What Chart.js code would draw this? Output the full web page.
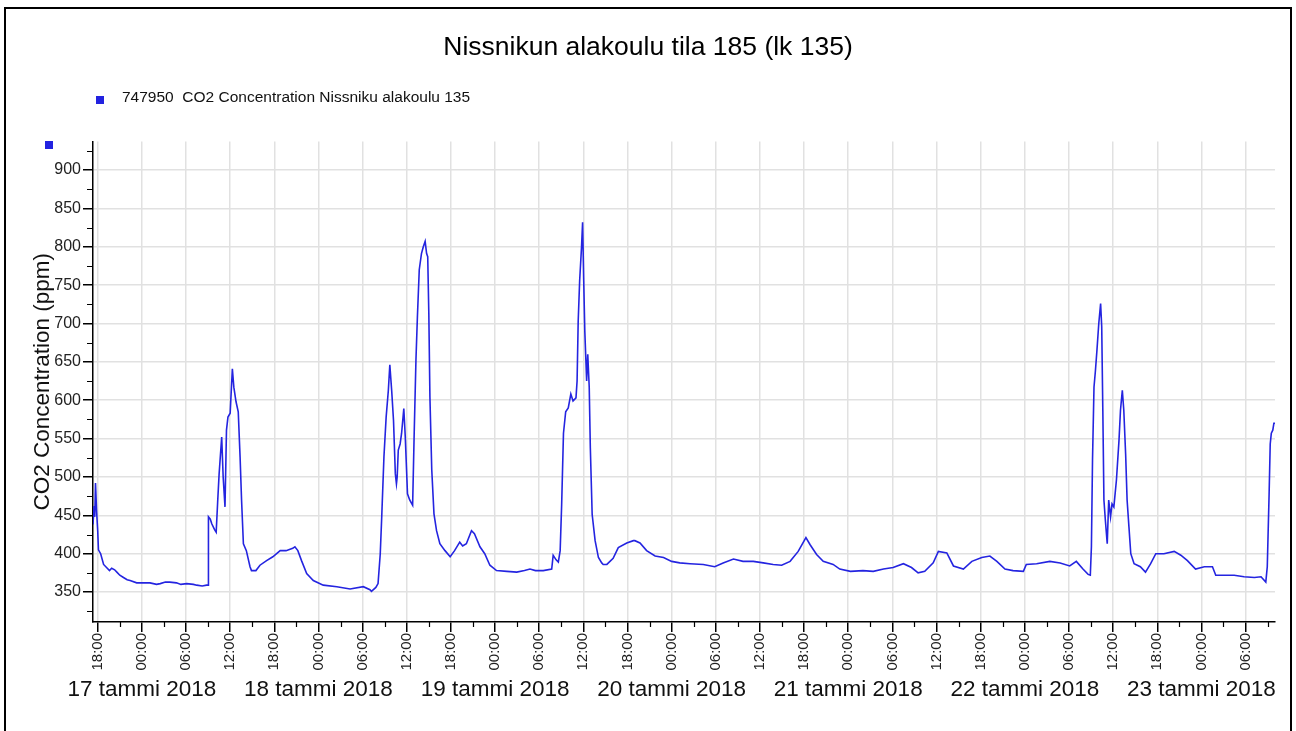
<!DOCTYPE html>
<html>
<head>
<meta charset="utf-8">
<script src="https://cdn.jsdelivr.net/npm/chart.js@4.4.1/dist/chart.umd.min.js"></script>
<style>
html,body{margin:0;padding:0;background:#fff;}
#wrap{position:relative;width:1296px;height:731px;overflow:hidden;background:#fff;}
#frame{position:absolute;left:4px;top:7px;width:1288px;height:740px;border:2px solid #000;box-sizing:border-box;}
#chartBox{position:absolute;left:0;top:0;width:1296px;height:731px;}
.sq{position:absolute;width:8px;height:8px;background:#2222e0;}
#legendText{position:absolute;left:122px;top:88px;font-family:"Liberation Sans",Arial,sans-serif;font-size:15.5px;line-height:18px;color:#111;white-space:pre;}
</style>
</head>
<body>
<div id="wrap">
  <div id="frame"></div>
  <div id="chartBox"><canvas id="c"></canvas></div>
  <div class="sq" style="left:96px;top:96px;"></div>
  <div id="legendText">747950  CO2 Concentration Nissniku alakoulu 135</div>
  <div class="sq" style="left:45px;top:141px;"></div>
</div>
<script>
// time in hours since 16 Jan 2018 00:00
const hoursSince16Jan = [
 17.36,17.5,17.6,17.7,17.85,18.0,18.1,18.4,18.8,19.2,19.6,19.9,20.3,20.6,21.0,21.5,22.0,22.4,23.3,24.0,
 25.1,26.0,26.5,27.2,27.8,28.7,29.3,30.1,31.0,31.45,32.2,32.8,33.0,33.05,33.3,33.5,33.9,34.1,34.3,34.5,
 34.85,35.05,35.3,35.5,35.7,36.0,36.3,36.5,36.8,37.1,37.35,37.55,37.8,38.2,38.7,38.9,39.5,40.05,40.95,41.8,
 42.8,43.6,44.5,44.8,45.2,45.7,46.4,47.3,48.65,50.5,52.3,54.1,55.0,55.2,55.8,56.1,56.4,56.6,56.9,57.2,
 57.5,57.7,57.95,58.2,58.45,58.6,58.7,58.85,59.1,59.3,59.6,59.8,60.1,60.4,60.8,61.0,61.25,61.45,61.7,62.0,
 62.25,62.5,62.7,62.85,63.0,63.15,63.4,63.7,64.05,64.5,65.2,65.9,66.5,67.2,67.6,68.1,68.8,69.2,69.95,70.6,
 71.3,72.2,73.6,74.95,76.0,76.75,77.5,78.55,79.7,79.9,80.3,80.6,80.85,81.05,81.3,81.6,81.95,82.3,82.6,83.0,
 83.15,83.3,83.5,83.75,83.9,84.05,84.2,84.45,84.6,84.8,84.95,85.2,85.6,86.05,86.5,86.7,87.2,88.05,88.75,89.9,
 90.8,91.0,91.7,92.6,93.75,94.9,96.0,97.1,98.5,100.3,101.85,103.0,104.4,105.7,107.1,108.45,109.8,110.95,112.1,113.2,
 114.25,114.8,115.7,116.6,117.95,118.85,120.3,122.0,123.4,124.8,126.1,127.5,128.6,129.5,130.4,131.55,132.25,133.4,134.3,135.65,
 136.8,138.15,139.25,140.2,141.3,142.4,143.8,144.2,145.6,147.4,148.8,150.1,151.0,151.9,152.6,152.9,153.05,153.2,153.4,153.6,
 153.8,154.05,154.3,154.45,154.6,154.75,154.95,155.2,155.4,155.65,155.85,156.1,156.45,156.8,157.0,157.25,157.45,157.7,157.9,158.15,
 158.4,158.85,159.7,160.4,161.1,161.8,162.9,164.3,165.2,166.1,167.2,168.4,169.5,169.95,171.1,172.45,173.8,175.2,176.1,176.75,
 176.95,177.2,177.35,177.5,177.7,177.85,178.0
];
const co2ppm = [
 438,462,448,492,455,430,405,400,386,382,378,381,379,376,372,369,366,365,362,362,
 362,360,361,363,363,362,360,361,360,359,358,359,359,448,445,439,431,428,467,504,
 552,500,461,561,578,583,641,617,598,585,526,470,413,404,383,378,378,385,391,396,
 404,404,407,409,404,391,374,365,359,357,354,357,353,351,356,361,400,448,526,578,
 613,646,613,574,504,491,500,535,543,557,589,552,478,470,463,552,652,709,770,791,
 800,807,791,787,713,604,509,452,430,413,404,396,404,415,410,413,430,426,409,400,
 385,378,377,376,378,380,378,378,380,398,392,389,404,463,557,585,590,608,599,603,
 625,703,756,799,832,756,690,625,660,617,538,451,417,395,388,386,386,394,408,414,
 417,417,414,404,397,395,390,388,387,386,383,388,393,390,390,388,386,385,390,403,
 421,412,399,390,386,380,377,378,377,380,382,387,382,375,377,388,403,401,384,380,
 390,395,397,390,380,378,377,386,387,390,388,384,390,380,373,372,409,522,617,639,
 665,700,726,696,587,470,443,413,470,448,465,461,496,548,587,613,587,530,470,435,
 400,387,383,376,387,400,400,403,398,391,380,383,383,372,372,372,370,369,370,363,
 383,478,543,557,561,570,570
];
const timeTickHours = [18,24,30,36,42,48,54,60,66,72,78,84,90,96,102,108,114,120,126,132,138,144,150,156,162,168,174];
const timeTickLabels = ['18:00','00:00','06:00','12:00','18:00','00:00','06:00','12:00','18:00','00:00','06:00','12:00','18:00','00:00','06:00','12:00','18:00','00:00','06:00','12:00','18:00','00:00','06:00','12:00','18:00','00:00','06:00'];
const xMinorTicks = [21,27,33,39,45,51,57,63,69,75,81,87,93,99,105,111,117,123,129,135,141,147,153,159,165,171,177];
const dateTickHours = [24,48,72,96,120,144,168];
const dateTickLabels = ['17 tammi 2018','18 tammi 2018','19 tammi 2018','20 tammi 2018','21 tammi 2018','22 tammi 2018','23 tammi 2018'];
const yTickValues = [350,400,450,500,550,600,650,700,750,800,850,900];
const yTickLabels = ['350','400','450','500','550','600','650','700','750','800','850','900'];
const yMinorTicks = [325,375,425,475,525,575,625,675,725,775,825,875,925];

const FONT = '"Liberation Sans", Arial, sans-serif';
const X_MIN = 17.36, X_MAX = 178.0, Y_MIN = 311, Y_MAX = 937;

const minorTicks = {
  id: 'minorTicks',
  afterDraw(chart) {
    const {ctx, chartArea: a, scales: {x, y}} = chart;
    ctx.save();
    ctx.strokeStyle = '#000';
    ctx.lineWidth = 1.2;
    ctx.beginPath();
    yMinorTicks.forEach(v => {
      const py = Math.round(y.getPixelForValue(v)) + 0.5;
      ctx.moveTo(a.left - 6, py); ctx.lineTo(a.left, py);
    });
    xMinorTicks.forEach(h => {
      if (h > X_MAX) return;
      const px = Math.round(x.getPixelForValue(h)) + 0.5;
      ctx.moveTo(px, a.bottom); ctx.lineTo(px, a.bottom + 5);
    });
    ctx.stroke();
    ctx.restore();
  }
};

new Chart(document.getElementById('c'), {
  type: 'line',
  data: {
    datasets: [{
      label: '747950  CO2 Concentration Nissniku alakoulu 135',
      data: hoursSince16Jan.map((h, i) => ({x: h, y: co2ppm[i]})),
      borderColor: '#2424e0',
      borderWidth: 1.6,
      pointRadius: 0,
      fill: false,
      tension: 0
    }]
  },
  options: {
    responsive: true,
    maintainAspectRatio: false,
    animation: false,
    layout: {padding: {left: 21, right: 21, top: 0, bottom: 22}},
    plugins: {
      legend: {display: false},
      tooltip: {enabled: false},
      title: {
        display: true,
        text: 'Nissnikun alakoulu tila 185 (lk 135)',
        color: '#000',
        font: {family: FONT, size: 26.5, weight: 'normal', lineHeight: 1.2},
        padding: {top: 31.4, bottom: 78.4}
      }
    },
    scales: {
      x: {
        type: 'linear',
        position: 'bottom',
        weight: 0,
        min: X_MIN, max: X_MAX,
        afterBuildTicks: s => { s.ticks = timeTickHours.map(v => ({value: v})); },
        afterFit: s => { s.height = 52; },
        border: {display: true, color: '#000', width: 1.5},
        grid: {color: '#e1e1e1', lineWidth: 1.5, drawTicks: true, tickLength: 10, tickColor: '#000', tickWidth: 1.5},
        ticks: {
          autoSkip: false, minRotation: 90, maxRotation: 90, padding: 1,
          color: '#222', font: {family: FONT, size: 15},
          callback: (v, i) => timeTickLabels[i]
        }
      },
      xDate: {
        type: 'linear',
        position: 'bottom',
        weight: 1,
        min: X_MIN, max: X_MAX,
        afterBuildTicks: s => { s.ticks = dateTickHours.map(v => ({value: v})); },
        afterFit: s => { s.height = 35; },
        border: {display: false},
        grid: {display: false, drawTicks: false},
        ticks: {
          autoSkip: false, minRotation: 0, maxRotation: 0, padding: 2,
          color: '#111', font: {family: FONT, size: 22.5},
          callback: (v, i) => dateTickLabels[i]
        }
      },
      y: {
        type: 'linear',
        position: 'left',
        min: Y_MIN, max: Y_MAX,
        afterBuildTicks: s => { s.ticks = yTickValues.map(v => ({value: v})); },
        afterFit: s => { s.width = 72; },
        border: {display: true, color: '#000', width: 1.5},
        grid: {color: '#e1e1e1', lineWidth: 1.5, drawTicks: true, tickLength: 10, tickColor: '#000', tickWidth: 1.5},
        title: {
          display: true,
          text: 'CO2 Concentration (ppm)',
          color: '#111',
          font: {family: FONT, size: 22.5, weight: 'normal'},
          padding: {top: 8, bottom: 0}
        },
        ticks: {
          padding: 2, color: '#222', font: {family: FONT, size: 16},
          callback: (v, i) => yTickLabels[i]
        }
      }
    }
  },
  plugins: [minorTicks]
});
</script>
</body>
</html>
